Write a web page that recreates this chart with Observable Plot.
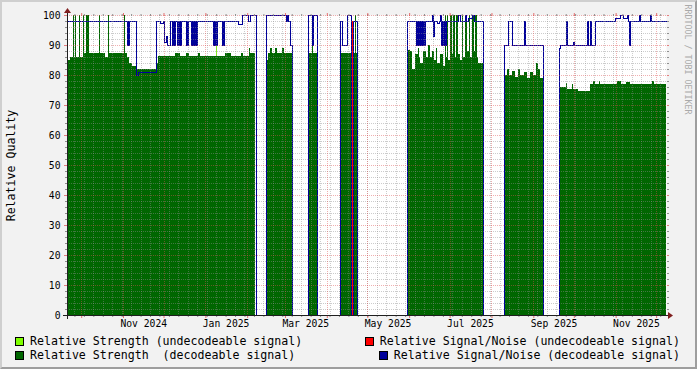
<!DOCTYPE html>
<html><head><meta charset="utf-8">
<script src="https://cdn.jsdelivr.net/npm/d3@7"></script>
<script src="https://cdn.jsdelivr.net/npm/@observablehq/plot@0.6"></script>
<style>
html,body{margin:0;padding:0;background:#f2f2f2;}
#wrap{position:relative;width:697px;height:369px;background:#f2f2f2;overflow:hidden;font-family:"DejaVu Sans Mono",monospace;}
#wrap svg{position:absolute;left:0;top:0;}
#frame{position:absolute;left:0;top:0;width:697px;height:369px;box-sizing:border-box;border-top:2px solid #cfcfcf;border-left:2px solid #cfcfcf;border-right:2px solid #9e9e9e;border-bottom:2px solid #9e9e9e;pointer-events:none;}
.item{position:absolute;height:14px;display:flex;align-items:center;font-size:11.6px;white-space:pre;color:#000;}
.item i{display:inline-block;width:7px;height:7px;border:1px solid #000;margin-right:6px;}
</style></head>
<body><div id="wrap"><div id="frame"></div></div>
<script>
// time axis: days since 2024-09-20 12:00 UTC
const startDate = "2024-09-20T12:00:00Z";
const spanDays = 443.8;

// Relative Strength (decodeable signal)
const strengthDay = [0,2.22,4.08,4.82,5.93,6.67,9.26,10.0,11.86,12.6,14.08,16.3,23.71,24.45,28.16,30.38,31.12,42.23,42.98,44.46,45.94,48.16,51.13,65.95,67.43,80.02,83.73,88.17,90.4,97.07,98.55,117.07,121.52,128.93,130.41,134.85,135.6,139.3,
 147.45,148.93,150.41,151.9,154.12,155.6,159.31,160.79,166.5,
 178.79,181.54,182.28,185.46,
 203.02,213.4,214.14,215.1,
 252.15,254.15,255.63,257.85,260.08,260.82,261.56,263.78,266.0,267.49,268.97,270.45,271.93,273.42,274.16,276.38,278.6,280.08,280.82,281.56,282.31,283.79,285.27,286.01,287.49,288.23,289.72,291.2,292.68,293.42,294.9,296.39,297.87,298.61,300.09,301.57,302.31,303.79,304.54,308.61,
 324.03,326.02,327.5,329.73,331.95,334.17,335.66,338.62,340.84,343.07,345.29,347.51,349.0,350.48,352.48,
 364.78,369.74,370.48,374.19,374.93,378.64,387.53,389.75,391.23,394.19,394.94,407.53,410.5,414.2,417.17,433.47,434.95,443.8];
const strengthVal = [85,86,100,86,100,86,100,86,100,87.3,100,87.3,100,87.3,86,100,87.3,100,87.3,86,84,83,82,84,86.3,87.3,86.3,87.3,86.3,87.3,86.3,87.3,86.3,87.3,86.3,89,87.3,0,
 85,87.5,89,87.5,89,87.5,89,87.5,0,
 87.5,99,87.5,0,
 87.5,100,87.5,0,
 88.5,88,82,87,89,86,84,88,86,90,86,88,85,89,84,87,83,100,86,100,85,100,87,100,86,100,87,85,100,86,100,88,100,86,100,88,100,86,84,0,
 80,82,80,81.5,79.5,82,80,81,79,81,80,84,82,79,0,
 76,77.5,75.5,77,75.5,74.8,77,78,77,78,77,78,77,77.8,77,78,77,77];

// Relative Signal/Noise (decodeable signal)
const snDay = [0,
 44.23,44.97,45.5,45.94,
 50.9,51.13,52.61,65.72,68.91,71.13,
 72.1,73.36,74.1,76.32,
 77.8,78.54,79.28,80.02,
 81.28,82.02,82.76,83.5,84.0,84.25,
 88.17,88.9,89.2,89.66,
 91.88,92.62,93.36,94.1,94.84,95.58,95.9,96.1,
 108.4,109.14,109.88,110.62,110.8,110.92,
 114.85,115.6,116.0,116.33,
 126.48,129.45,133.89,135.6,139.82,
 147.45,162.27,163.01,163.76,165.24,166.5,
 178.79,181.17,182.28,185.46,
 202.28,203.39,207.24,210.06,211.76,215.1,
 252.15,
 258.6,259.34,260.08,261.04,
 261.56,262.3,262.7,263.04,
 263.56,264.3,264.8,265.26,
 270.23,270.97,271.56,273.93,275.86,276.38,
 277.12,277.86,278.6,279.34,280.08,280.82,
 289.94,291.2,294.9,295.64,297.35,299.87,301.57,308.46,
 324.03,326.76,329.73,338.62,339.36,352.48,
 364.78,365.29,369.52,370.26,375.15,375.89,385.08,385.82,387.53,388.27,391.23,406.05,409.75,411.76,414.72,415.91,416.65,417.39,424.06,424.8,431.99,432.73,443.8];
const snVal = [98,
 90,98,90,98,
 81,80,81,98,97.2,98,
 91,93,90,98,
 90,98,90,98,
 90,98,90,98,90,98,
 90,98,90,98,
 90,98,90,98,90,98,90,98,
 90,98,90,98,90,98,
 90,98,90,98,
 97,100,98,100,0,
 100,98,100,98,90,0,
 100,90,100,0,
 98,90,100,0,98,0,
 98,
 90,98,90,98,
 90,98,90,98,
 90,98,90,98,
 100,93,98,97.3,98,100,
 90,98,90,98,90,98,
 100,98,100,98,99,100,98,0,
 90,98,90,98,90,0,
 89,90,98,90,91,90,98,90,98,90,98,99,100,99,100,98,90,98,100,98,100,98,98];

// Relative Strength (undecodeable signal)
const weakDay = [110.03,110.77];
const weakVal = [90,0];
// Relative Signal/Noise (undecodeable signal)
const snBadDay = [210.06,211.76];
const snBadVal = [98,0];

const yTicks = [0,10,20,30,40,50,60,70,80,90,100];
const xLabelDates = ["2024-11-16","2025-01-16","2025-03-16","2025-05-16","2025-07-16","2025-09-16","2025-11-16"];
const xLabels = ["Nov 2024","Jan 2025","Mar 2025","May 2025","Jul 2025","Sep 2025","Nov 2025"];

const legendLabels = ["Relative Strength (undecodeable signal)","Relative Signal/Noise (undecodeable signal)","Relative Strength  (decodeable signal)","Relative Signal/Noise (decodeable signal)"];
const legendColors = ["#7fff00","#ff0000","#006600","#000099"];

const t0 = new Date(startDate).getTime();
const DAY = 86400000;
const toDate = d => new Date(t0 + d * DAY);
const series = (days, vals) => days.map((d, i) => ({date: toDate(d), value: vals[i]}));

const strength = series(strengthDay, strengthVal);
const sn = series(snDay, snVal);
const weak = series(weakDay, weakVal);
const snBad = series(snBadDay, snBadVal);

const xDomain = [toDate(0), toDate(spanDays)];
const monthTicks = d3.utcMonth.range(xDomain[0], xDomain[1]);
const weekTicks = d3.utcThursday.range(xDomain[0], xDomain[1]);
const yMinor = d3.range(0, 101, 2).filter(v => v % 10 !== 0);
const labelDates = xLabelDates.map(s => new Date(s + "T00:00:00Z"));
const labelMap = new Map(labelDates.map((d, i) => [+d, xLabels[i]]));

const GRID = "#8f8f8f", MGRID = "#de4f4f";
const gridStyle = {stroke: GRID, strokeOpacity: 0.45, strokeDasharray: "1,1", shapeRendering: "crispEdges"};
const mgridStyle = {stroke: MGRID, strokeOpacity: 0.45, strokeDasharray: "1,1", shapeRendering: "crispEdges"};

const plot = Plot.plot({
  width: 697, height: 332,
  marginLeft: 67, marginRight: 31, marginTop: 15, marginBottom: 17,
  x: {type: "utc", domain: xDomain, label: null},
  y: {domain: [0, 100], label: null},
  style: {background: "transparent", fontFamily: "DejaVu Sans Mono, monospace", fontSize: "9.7px", color: "#000", overflow: "visible"},
  marks: [
    Plot.frame({fill: "white", stroke: null}),
    Plot.areaY(weak, {x: "date", y: "value", curve: "step-after", fill: "#7fff00", shapeRendering: "crispEdges"}),
    Plot.areaY(strength, {x: "date", y: "value", curve: "step-after", fill: "#006600", shapeRendering: "crispEdges"}),
    Plot.areaY(snBad, {x: "date", y: "value", curve: "step-after", fill: "#ff0000", shapeRendering: "crispEdges"}),
    Plot.line(sn, {x: "date", y: "value", curve: "step-after", stroke: "#000099", strokeWidth: 1, shapeRendering: "crispEdges"}),
    // grid on top
    Plot.ruleY(yMinor, {...gridStyle}),
    Plot.ruleX(weekTicks, {...gridStyle}),
    Plot.ruleY(yTicks.slice(1), {...mgridStyle}),
    Plot.ruleX(monthTicks, {...mgridStyle}),
    // ticks
    Plot.axisY({ticks: yMinor, tickSize: 2, text: null, stroke: GRID, label: null}),
    Plot.axisY({anchor: "right", ticks: yMinor, tickSize: 2, text: null, stroke: GRID, label: null}),
    Plot.axisY({anchor: "right", ticks: yTicks, tickSize: 2, text: null, stroke: MGRID, strokeOpacity: 0.7, label: null}),
    Plot.axisY({ticks: yTicks, tickSize: 3, tickPadding: 4, stroke: MGRID, strokeOpacity: 0.7, label: null, fontSize: 9.7}),
    Plot.axisX({ticks: weekTicks, tickSize: 2, text: null, stroke: GRID, label: null}),
    Plot.axisX({anchor: "top", ticks: weekTicks, tickSize: 2, text: null, stroke: GRID, label: null}),
    Plot.axisX({ticks: monthTicks, tickSize: 3, text: null, stroke: MGRID, strokeOpacity: 0.8, label: null}),
    Plot.axisX({anchor: "top", ticks: monthTicks, tickSize: 3, text: null, stroke: MGRID, strokeOpacity: 0.8, label: null}),
    Plot.axisX({ticks: labelDates, tickSize: 0, tickPadding: 5, tickFormat: d => labelMap.get(+d), label: null, fontSize: 9.7}),
    // labels
    Plot.text(["Relative Quality"], {frameAnchor: "left", rotate: -90, dx: -56, textAnchor: "middle", fontSize: 11.6}),
    Plot.text(["RRDTOOL / TOBI OETIKER"], {frameAnchor: "top-right", rotate: 90, dx: 21, dy: -11, textAnchor: "start", lineAnchor: "middle", fontSize: 8.3, fill: "#aaaaaa"})
  ]
});

const wrap = document.getElementById("wrap");
wrap.insertBefore(plot, document.getElementById("frame"));

// axes lines and arrows (positions from the plot's scales)
const xs = plot.scale("x"), ys = plot.scale("y");
const X0 = Math.round(xs.apply(xDomain[0])), X1 = Math.round(xs.apply(xDomain[1]));
const Y0 = ys.apply(0), Y1 = ys.apply(100);
const svg = d3.select(plot);
const g = svg.append("g").attr("shape-rendering", "crispEdges");
g.append("line").attr("x1", X0 - 4).attr("x2", X1 + 4).attr("y1", Y0 + 0.5).attr("y2", Y0 + 0.5).attr("stroke", "#1f1f1f");
g.append("line").attr("x1", X0 + 0.5).attr("x2", X0 + 0.5).attr("y1", Y0 + 4).attr("y2", Y1 - 4).attr("stroke", "#1f1f1f");
svg.append("polygon").attr("points", `${X1+2},${Y0-3} ${X1+2},${Y0+4} ${X1+7},${Y0+0.5}`).attr("fill", "#801f1f");
svg.append("polygon").attr("points", `${X0-3},${Y1-2} ${X0+4},${Y1-2} ${X0+0.5},${Y1-7}`).attr("fill", "#801f1f");

// legend
const legPos = [{top: 334, left: 15}, {top: 334, right: 17}, {top: 348, left: 15}, {top: 348, right: 17}];
legendLabels.forEach((lab, i) => {
  const d = document.createElement("div");
  d.className = "item";
  d.style.top = legPos[i].top + "px";
  if (legPos[i].left !== undefined) d.style.left = legPos[i].left + "px"; else d.style.right = legPos[i].right + "px";
  const b = document.createElement("i");
  b.style.background = legendColors[i];
  d.appendChild(b);
  d.appendChild(document.createTextNode(lab));
  wrap.appendChild(d);
});
</script>
</body></html>
